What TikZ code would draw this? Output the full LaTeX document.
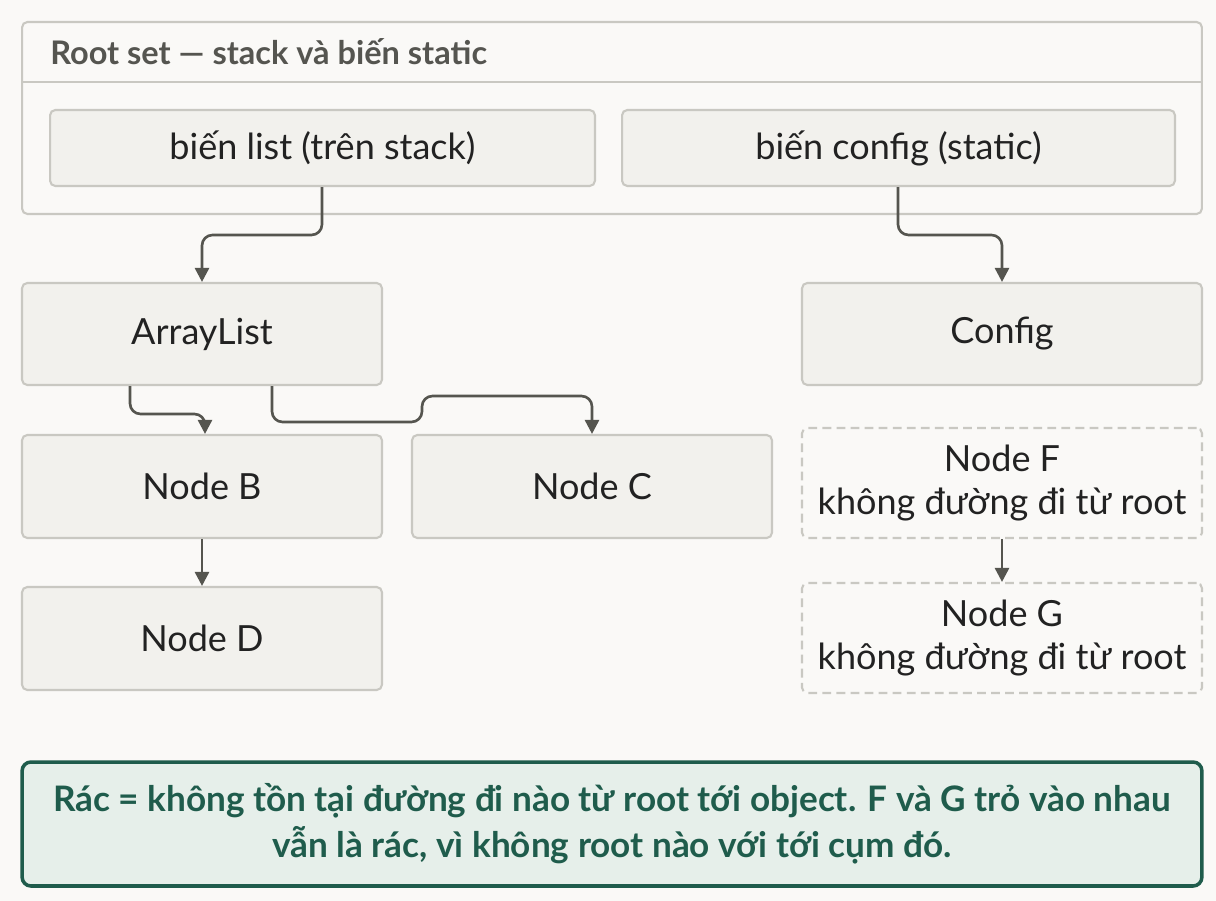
\documentclass[tikz,border=0pt]{standalone}
\usepackage{fontspec}
\setmainfont{Lato}
\usetikzlibrary{arrows.meta,positioning}
\definecolor{bgc}{HTML}{FAF9F7}
\definecolor{boxf}{HTML}{F2F1ED}
\definecolor{boxd}{HTML}{C9C8C2}
\definecolor{txt}{HTML}{222222}
\definecolor{hdr}{HTML}{555550}
\definecolor{arrc}{HTML}{55554F}
\definecolor{notef}{HTML}{E6EFEA}
\definecolor{noted}{HTML}{1F5C4C}
\begin{document}
\begin{tikzpicture}[x=0.02cm,y=-0.02cm,
    box/.style={draw=boxd,fill=boxf,line width=1.2pt,rounded corners=3pt,
      text=txt,font=\fontsize{20.5}{24}\selectfont,align=center,inner sep=0pt},
    ghost/.style={box,fill=bgc,dashed,dash pattern=on 5pt off 3pt},
    arr/.style={draw=arrc,line width=1.5pt,rounded corners=6pt,-{Triangle[length=8pt,width=8pt]}}]
    \fill[bgc] (0,0) rectangle (1216,901);
    \useasboundingbox (0,0) rectangle (1216,901);
    % root set
    \node[draw=boxd,line width=1.2pt,rounded corners=3pt,minimum width=23.6cm,minimum height=3.84cm,inner sep=0pt] (root) at (612,118) {};
    \draw[boxd,line width=1.2pt] (22,82) -- (1202,82);
    \node[anchor=west,inner sep=0pt,text=hdr,font=\bfseries\fontsize{18.5}{22}\selectfont] (title) at (50,52) {Root set — stack và biến static};
    \node[box,minimum width=10.9cm,minimum height=1.52cm] (list) at (322.5,148) {biến list (trên stack)};
    \node[box,minimum width=11.06cm,minimum height=1.52cm] (cfgvar) at (898.5,148) {biến config (static)};
    % objects
    \node[box,minimum width=7.2cm,minimum height=2.04cm] (alist) at (202,334) {ArrayList};
    \node[box,minimum width=8cm,minimum height=2.04cm] (config) at (1002,334) {Config};
    \node[box,minimum width=7.2cm,minimum height=2.06cm] (nodeB) at (202,486.5) {Node B};
    \node[box,minimum width=7.2cm,minimum height=2.06cm] (nodeC) at (592,486.5) {Node C};
    \node[box,minimum width=7.2cm,minimum height=2.06cm] (nodeD) at (202,638.5) {Node D};
    \node[ghost,minimum width=8cm,minimum height=2.2cm] (nodeF) at (1002,483) {Node F\\không đường đi từ root};
    \node[ghost,minimum width=8cm,minimum height=2.2cm] (nodeG) at (1002,638) {Node G\\không đường đi từ root};
    % note
    \node[draw=noted,fill=notef,line width=2pt,rounded corners=5pt,minimum width=23.6cm,minimum height=2.48cm,
      text=noted,font=\bfseries\fontsize{20}{26}\selectfont,align=center] (note) at (612,824)
      {Rác = không tồn tại đường đi nào từ root tới object. F và G trỏ vào nhau\\vẫn là rác, vì không root nào với tới cụm đó.};
    % references
    \draw[arr] (list.south -| 322,0) -- (322,235) -| (alist.north);
    \draw[arr] (cfgvar.south -| 898,0) -- (898,235) -| (config.north);
    \draw[arr] (alist.south -| 130,0) -- (130,414) -| (nodeB.north -| 205,0);
    \draw[arr] (alist.south -| 272,0) -- (272,422) -- (422,422) -- (422,396) -| (nodeC.north);
    \draw[arr] (nodeB) -- (nodeD);
    \draw[arr] (nodeF) -- (nodeG);
\end{tikzpicture}
\end{document}
